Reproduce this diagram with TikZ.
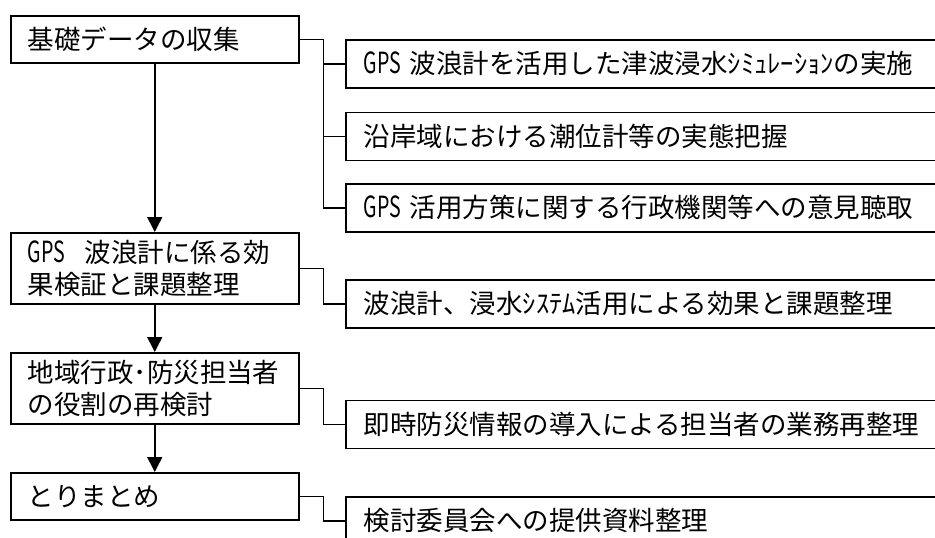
\documentclass[tikz,border=0pt]{standalone}
\usepackage{fontspec}
\setmainfont{Noto Sans CJK JP}
\usetikzlibrary{arrows.meta}
\newcommand\gpsw[1]{\makebox[#1][l]{\scalebox{0.74}[1.1]{GPS}}}
\begin{document}
\begin{tikzpicture}[x=1pt,y=-1pt,
  every node/.style={font=\fontsize{26.5}{32}\selectfont},
  lbox/.style={draw, line width=1.5pt, rectangle, anchor=north west,
    text width=254pt, inner xsep=17pt, inner ysep=0pt, align=left},
  rbox/.style={draw, line width=1.5pt, rectangle, anchor=north west,
    text width=584pt, inner xsep=18pt, inner ysep=0pt, align=left,
    minimum height=48pt},
  conn/.style={line width=1.5pt},
  arr/.style={line width=1.5pt, -{Triangle[width=15pt,length=15pt]}}
]
\useasboundingbox (0,0) rectangle (935,538);
\clip (0,0) rectangle (935,538);

% left column
\node[lbox, minimum height=47pt] (b1) at (10,15) {基礎データの収集};
\node[lbox, minimum height=71pt] (b2) at (10,232) {\gpsw{57pt}波浪計に係る効\\果検証と課題整理};
\node[lbox, minimum height=71pt] (b3) at (10,352) {地域行政･防災担当者\\の役割の再検討};
\node[lbox, minimum height=47pt] (b4) at (10,472) {とりまとめ};

% right column
\node[rbox] (r1) at (345,39) {\gpsw{46pt}波浪計を活用した津波浸水ｼﾐｭﾚｰｼｮﾝの実施};
\node[rbox] (r2) at (345,111.5) {沿岸域における潮位計等の実態把握};
\node[rbox] (r3) at (345,183) {\gpsw{46pt}活用方策に関する行政機関等への意見聴取};
\node[rbox] (r4) at (345,279) {波浪計、浸水ｼｽﾃﾑ活用による効果と課題整理};
\node[rbox] (r5) at (345,399.5) {即時防災情報の導入による担当者の業務再整理};
\node[rbox] (r6) at (345,496) {検討委員会への提供資料整理};

% arrows
\draw[arr] (b1.south) -- (b2.north);
\draw[arr] (b2.south) -- (b3.north);
\draw[arr] (b3.south) -- (b4.north);

% connectors
\draw[conn] (b1.east) -- ++(24,0) coordinate (j1) |- (r3.west);
\draw[conn] (j1 |- r1.west) -- (r1.west);
\draw[conn] (j1 |- r2.west) -- (r2.west);
\draw[conn] (b2.east) -- ++(24,0) |- (r4.west);
\draw[conn] (b3.east) -- ++(24,0) |- (r5.west);
\draw[conn] (b4.east) -- ++(24,0) |- (r6.west);
\end{tikzpicture}
\end{document}
